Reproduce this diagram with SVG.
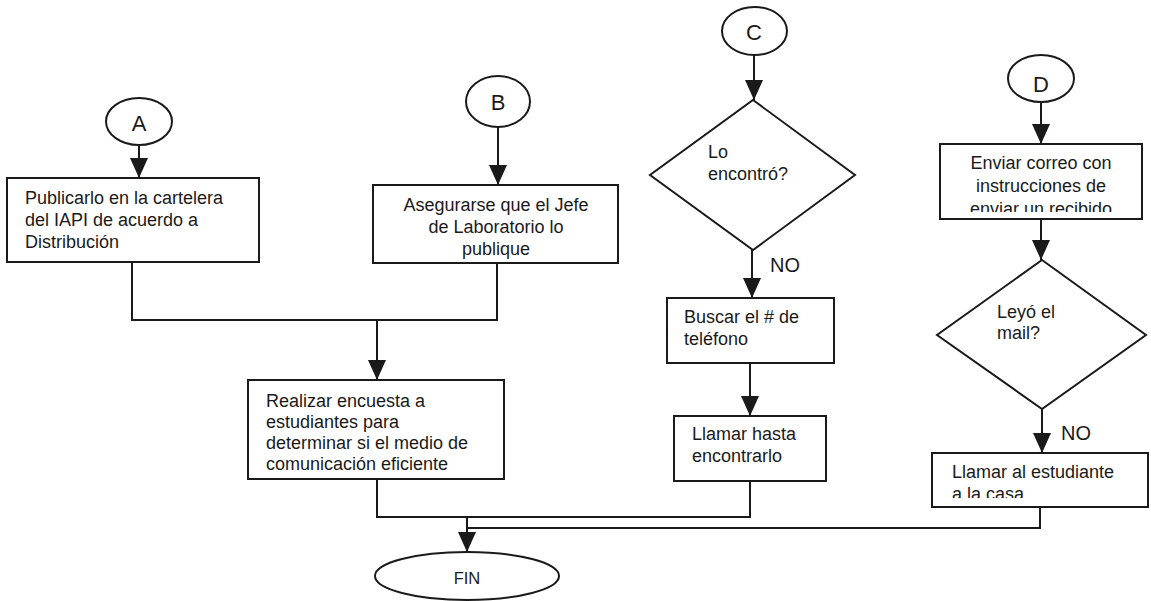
<svg xmlns="http://www.w3.org/2000/svg" width="1151" height="601" viewBox="0 0 1151 601">
<style>
.shape{fill:#fff;stroke:#1a1a1a;stroke-width:2}
.conn{fill:none;stroke:#1a1a1a;stroke-width:2}
.t{font-family:"Liberation Sans",Arial,sans-serif;font-size:18px;fill:#1a1a1a}
.c{text-anchor:middle}
.lt{font-family:"Liberation Sans",Arial,sans-serif;font-size:22px;fill:#1a1a1a;text-anchor:middle}
.no{font-family:"Liberation Sans",Arial,sans-serif;font-size:20px;fill:#1a1a1a}
</style>
<defs>
<marker id="ah" markerUnits="userSpaceOnUse" markerWidth="20" markerHeight="18" refX="20" refY="9" orient="auto" viewBox="0 0 20 18">
<path d="M0,0 L20,9 L0,18 z" fill="#1a1a1a"/>
</marker>
<clipPath id="clipD"><rect x="940" y="144" width="202" height="68"/></clipPath>
<clipPath id="clipL"><rect x="932" y="453" width="216" height="45"/></clipPath>
</defs>
<rect width="1151" height="601" fill="#fff"/>

<g id="connectors">
<path class="conn" d="M139,145 V178" marker-end="url(#ah)"/>
<path class="conn" d="M498,127 V185" marker-end="url(#ah)"/>
<path class="conn" d="M132,262 V320 H497 V263"/>
<path class="conn" d="M377,320 V380" marker-end="url(#ah)"/>
<path class="conn" d="M754,55 V100" marker-end="url(#ah)"/>
<path class="conn" d="M752,250 V298" marker-end="url(#ah)"/>
<path class="conn" d="M750,363 V416" marker-end="url(#ah)"/>
<path class="conn" d="M377,479 V517 H750 V481"/>
<path class="conn" d="M1041,102 V144" marker-end="url(#ah)"/>
<path class="conn" d="M1041,219 V260" marker-end="url(#ah)"/>
<path class="conn" d="M1042,409 V453" marker-end="url(#ah)"/>
<path class="conn" d="M1040,507 V528 H467"/>
<path class="conn" d="M467,517 V552" marker-end="url(#ah)"/>
<text class="no" x="770" y="272">NO</text>
<text class="no" x="1061" y="440">NO</text>
</g>

<g id="nodeA">
<ellipse class="shape" cx="139" cy="121.5" rx="33" ry="23.5"/>
<text class="lt" x="139" y="131">A</text>
</g>
<g id="boxA">
<rect class="shape" x="7" y="178" width="252" height="84"/>
<text class="t" x="25" y="204">Publicarlo en la cartelera</text>
<text class="t" x="25" y="226">del IAPI de acuerdo a</text>
<text class="t" x="25" y="248">Distribución</text>
</g>

<g id="nodeB">
<ellipse class="shape" cx="498" cy="101.5" rx="32" ry="25.5"/>
<text class="lt" x="498" y="110">B</text>
</g>
<g id="boxB">
<rect class="shape" x="373" y="185" width="245" height="78"/>
<text class="t c" x="496" y="211">Asegurarse que el Jefe</text>
<text class="t c" x="496" y="233">de Laboratorio lo</text>
<text class="t c" x="496" y="255">publique</text>
</g>

<g id="boxEncuesta">
<rect class="shape" x="248" y="380" width="256" height="99"/>
<text class="t" x="266" y="407">Realizar encuesta a</text>
<text class="t" x="266" y="428">estudiantes para</text>
<text class="t" x="266" y="449">determinar si el medio de</text>
<text class="t" x="266" y="470">comunicación eficiente</text>
</g>

<g id="nodeC">
<ellipse class="shape" cx="754.5" cy="31" rx="32.5" ry="24"/>
<text class="lt" x="754" y="40">C</text>
</g>
<g id="diamondC">
<polygon class="shape" points="753,100 855,175 753,250 650,175"/>
<text class="t" x="708" y="158">Lo</text>
<text class="t" x="708" y="180">encontró?</text>
</g>
<g id="boxBuscar">
<rect class="shape" x="667" y="298" width="167" height="65"/>
<text class="t" x="684" y="323">Buscar el # de</text>
<text class="t" x="684" y="345">teléfono</text>
</g>
<g id="boxLlamarHasta">
<rect class="shape" x="674" y="416" width="152" height="65"/>
<text class="t" x="692" y="440">Llamar hasta</text>
<text class="t" x="692" y="462">encontrarlo</text>
</g>

<g id="nodeD">
<ellipse class="shape" cx="1041" cy="78.5" rx="33" ry="23.5"/>
<text class="lt" x="1041" y="92">D</text>
</g>
<g id="boxCorreo">
<rect class="shape" x="940" y="144" width="202" height="75"/>
<g clip-path="url(#clipD)">
<text class="t c" x="1041" y="169">Enviar correo con</text>
<text class="t c" x="1041" y="192">instrucciones de</text>
<text class="t c" x="1041" y="215">enviar un recibido</text>
</g>
</g>
<g id="diamondD">
<polygon class="shape" points="1042,260 1146,335 1042,409 937,335"/>
<text class="t" x="997" y="318">Leyó el</text>
<text class="t" x="997" y="339">mail?</text>
</g>
<g id="boxLlamarEst">
<rect class="shape" x="932" y="453" width="216" height="54"/>
<g clip-path="url(#clipL)">
<text class="t" x="952" y="478">Llamar al estudiante</text>
<text class="t" x="952" y="500">a la casa</text>
</g>
</g>

<g id="nodeFIN">
<ellipse class="shape" cx="467" cy="576" rx="92" ry="24"/>
<text class="t c" x="467" y="584" style="font-size:16.5px">FIN</text>
</g>
</svg>
